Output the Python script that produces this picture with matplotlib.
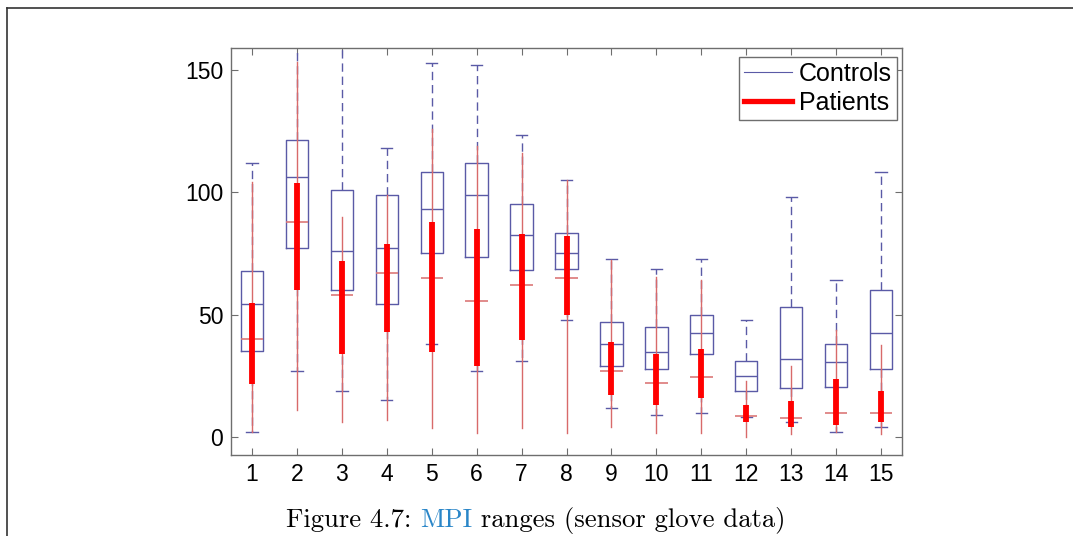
import matplotlib
matplotlib.use("Agg")
import matplotlib.pyplot as plt
from matplotlib.lines import Line2D

plt.rcParams["font.family"] = ["Liberation Sans", "DejaVu Sans"]

# Finger index (1..15)
labels = [str(i) for i in range(1, 16)]
positions = list(range(1, 16))

# Controls: whisker low, Q1, median, Q3, whisker high
ctrl_whislo = [2.0, 27.0, 19.1, 15.1, 38.0, 27.0, 31.0, 47.9, 11.8, 9.0, 9.8, 8.3, 6.1, 2.0, 4.1]
ctrl_q1 = [35.4, 77.2, 60.0, 54.3, 75.3, 73.5, 68.3, 68.7, 29.1, 27.8, 34.2, 18.9, 20.0, 20.7, 27.8]
ctrl_med = [54.3, 106.2, 76.0, 77.2, 93.1, 99.0, 82.5, 75.3, 38.0, 35.0, 42.5, 25.0, 32.0, 30.8, 42.5]
ctrl_q3 = [68.1, 121.4, 100.9, 99.0, 108.2, 111.9, 95.1, 83.3, 47.1, 44.9, 49.8, 31.0, 53.1, 38.1, 60.2]
ctrl_whishi = [111.9, 175.0, 172.0, 118.3, 152.7, 152.0, 123.2, 105.2, 73.0, 68.6, 73.0, 47.9, 98.3, 64.2, 108.2]

# Patients: whisker low, Q1, median, Q3, whisker high
pat_whislo = [2.0, 11.2, 6.1, 7.1, 3.9, 1.9, 3.9, 1.9, 4.4, 1.9, 1.9, 0.3, 1.2, 2.0, 1.2]
pat_q1 = [21.8, 60.2, 34.2, 42.9, 35.0, 29.1, 39.6, 50.1, 17.2, 13.3, 16.2, 6.1, 4.1, 5.0, 6.1]
pat_med = [40.0, 87.9, 58.1, 67.2, 64.9, 55.8, 62.1, 64.9, 27.0, 22.2, 24.5, 8.8, 8.0, 9.8, 9.8]
pat_q3 = [54.9, 103.7, 72.0, 78.8, 87.9, 84.9, 83.0, 82.2, 38.9, 34.0, 36.1, 13.1, 14.8, 24.0, 19.1]
pat_whishi = [104.4, 153.0, 90.0, 99.0, 125.8, 119.0, 116.0, 105.2, 72.4, 65.3, 64.2, 23.1, 29.1, 43.8, 37.7]

yticks = [0, 50, 100, 150]

BLUE = "#5a5aa6"
RED = "#ff0000"
RED_THIN = "#d86a6a"
RED_MED = "#dc7878"
GRAY = "#6e6e6e"


def stats(lo, q1, med, q3, hi):
    return [dict(whislo=a, q1=b, med=c, q3=d, whishi=e, fliers=[])
            for a, b, c, d, e in zip(lo, q1, med, q3, hi)]


fig = plt.figure(figsize=(10.73, 5.36), dpi=100)
ax = fig.add_axes([0.2157, 0.1511, 0.6250, 0.7593])

# Controls: thin outlined boxes with dashed whiskers
ax.bxp(stats(ctrl_whislo, ctrl_q1, ctrl_med, ctrl_q3, ctrl_whishi),
       positions=positions, widths=0.5, capwidths=0.25,
       boxprops=dict(color=BLUE, lw=1.0),
       whiskerprops=dict(color=BLUE, lw=1.0, linestyle=(0, (6, 3.5))),
       capprops=dict(color=BLUE, lw=1.0),
       medianprops=dict(color=BLUE, lw=1.0),
       manage_ticks=False, zorder=2)

# Patients: thin whiskers, median tick, thick bar for the interquartile range
ax.bxp(stats(pat_whislo, pat_q1, pat_med, pat_q3, pat_whishi),
       positions=positions, widths=0.5, showbox=False, showcaps=False,
       whiskerprops=dict(color=RED_THIN, lw=1.0, linestyle="-"),
       medianprops=dict(color=RED_MED, lw=1.2),
       manage_ticks=False, zorder=3)
ax.vlines(positions, pat_q1, pat_q3, colors=RED, lw=4.2, zorder=4)

ax.set_xlim(0.54, 15.47)
ax.set_ylim(-7.2, 158.9)
ax.set_xticks(positions)
ax.set_xticklabels(labels)
ax.set_yticks(yticks)
ax.tick_params(direction="in", length=5, width=0.8, color=GRAY,
               labelsize=16.5, top=True, right=True, pad=6)
for s in ax.spines.values():
    s.set_color(GRAY)
    s.set_linewidth(1.0)

handles = [Line2D([], [], color=BLUE, lw=0.8),
           Line2D([], [], color=RED, lw=3.8)]
leg = ax.legend(handles, ["Controls", "Patients"], loc="upper right",
                fontsize=18, fancybox=False, framealpha=1,
                edgecolor=GRAY, handlelength=1.9, handletextpad=0.3,
                borderpad=0.2, labelspacing=0.2, borderaxespad=0,
                bbox_to_anchor=(0.9925, 0.978))
leg.get_frame().set_linewidth(1.0)

# Page frame lines
fig.add_artist(Line2D([7 / 1073, 1], [1 - 7.5 / 536, 1 - 7.5 / 536],
                      transform=fig.transFigure, color="#333333", lw=1.2))
fig.add_artist(Line2D([7 / 1073, 7 / 1073], [0, 1 - 7.5 / 536],
                      transform=fig.transFigure, color="#333333", lw=1.2))

# Caption with a coloured acronym
parts = [("Figure 4.7: ", "black"), ("MPI", "#2a86c8"),
         (" ranges (sensor glove data)", "black")]
cap_size = 19.2
renderer = fig.canvas.get_renderer()
texts = []
for s, c in parts:
    t = fig.text(0, 1 - 527 / 536, s, color=c, family="cmr10",
                 fontsize=cap_size, va="baseline", ha="left")
    texts.append(t)
widths = [t.get_window_extent(renderer).width for t in texts]
total = sum(widths)
x = (536 - total / 2)
for t, w in zip(texts, widths):
    t.set_x(x / 1073)
    x += w

fig.savefig("out.png", dpi=100)
